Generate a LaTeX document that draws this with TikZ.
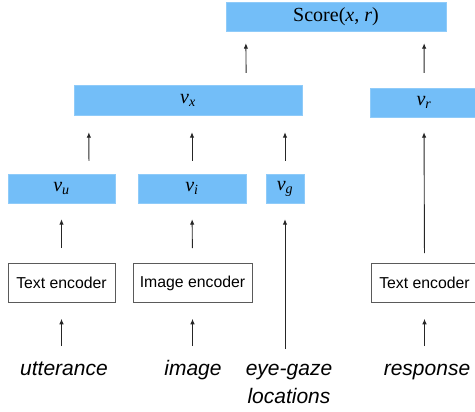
\documentclass[tikz,border=0pt]{standalone}
\usepackage{fontspec}
\setmainfont{Liberation Serif}
\setsansfont{Liberation Sans}
\usetikzlibrary{arrows.meta}
\definecolor{vecblue}{RGB}{115,190,248}
\definecolor{encgray}{RGB}{90,90,90}
\newcommand{\vsub}[1]{\textit{v}\textsubscript{\textit{#1}}}
\tikzstyle{vecbox} = [rectangle, fill=vecblue, draw=vecblue!80!white, line width=0.4pt,
    minimum height=29pt, inner sep=0pt, font=\fontsize{20}{24}\selectfont]
\tikzstyle{encbox} = [rectangle, draw=encgray, fill=white, line width=0.6pt,
    minimum height=39pt, inner sep=0pt, font=\sffamily\fontsize{15.8}{18}\selectfont]
\tikzstyle{input} = [anchor=north, inner sep=0pt, align=center,
    font=\sffamily\itshape\fontsize{21}{27.5}\selectfont]
\tikzstyle{line} = [draw, black!85, line width=0.9pt, -{Latex[length=5.5pt,width=4.5pt]}]

\begin{document}
\begin{tikzpicture}[x=1pt, y=-1pt]
  \useasboundingbox (0,0) rectangle (475,412);
   % Place nodes
    \node [vecbox, minimum width=220pt] (score) at (336,16.5) {Score(\textit{x}, \textit{r})};
    \node [vecbox, minimum width=228pt, minimum height=30pt] (vx) at (188,100) {\vsub{x}};
    \node [vecbox, minimum width=108pt] (vr) at (424,102.5) {\vsub{r}};
    \node [vecbox, minimum width=107pt] (vu) at (61.5,188.5) {\vsub{u}};
    \node [vecbox, minimum width=108pt] (vi) at (192,188.5) {\vsub{i}};
    \node [vecbox, minimum width=38pt] (vg) at (285,188.5) {\vsub{g}};
    \node [encbox, minimum width=107pt] (tenc) at (61.5,283) {Text encoder};
    \node [encbox, minimum width=119pt] (ienc) at (192.5,283) {Image encoder};
    \node [encbox, minimum width=107pt] (renc) at (424.5,283) {Text encoder};
    \node [input] (utt) at (64,356.5) {\strut utterance};
    \node [input] (img) at (193,356.5) {\strut image};
    \node [input] (gaze) at (289,356.5) {\strut eye-gaze\\locations};
    \node [input] (resp) at (427,356.5) {\strut response};
   % Draw edges
    \path [line, shorten <=10.5pt, shorten >=16pt] (tenc.south |- utt.north) -- (tenc.south);
    \path [line, shorten <=10.5pt, shorten >=16pt] (ienc.south |- img.north) -- (ienc.south);
    \path [line, shorten <=10.5pt, shorten >=16pt] (renc.south |- resp.north) -- (renc.south);
    \path [line, shorten <=15pt, shorten >=16pt] (tenc.north) -- (vu.south);
    \path [line, shorten <=15pt, shorten >=16pt] (ienc.north) -- (vi.south);
    \path [line, shorten <=7.5pt, shorten >=16pt] (vg.south |- gaze.north) -- (vg.south);
    \path [line, shorten <=13pt, shorten >=17pt] ([xshift=27.5pt]vu.north) -- ([xshift=15pt]vx.south west);
    \path [line, shorten <=13pt, shorten >=17pt] (vi.north) -- (vi.north |- vx.south);
    \path [line, shorten <=13pt, shorten >=17pt] (vg.north) -- (vg.north |- vx.south);
    \path [line, shorten <=10pt, shorten >=15pt] (renc.north) -- (vr.south);
    \path [line, shorten <=12pt, shorten >=12pt] ([xshift=-56pt]vx.north east) -- ([xshift=20pt]score.south west);
    \path [line, shorten <=15pt, shorten >=12pt] (vr.north) -- ([xshift=-22pt]score.south east);
\end{tikzpicture}
\end{document}
